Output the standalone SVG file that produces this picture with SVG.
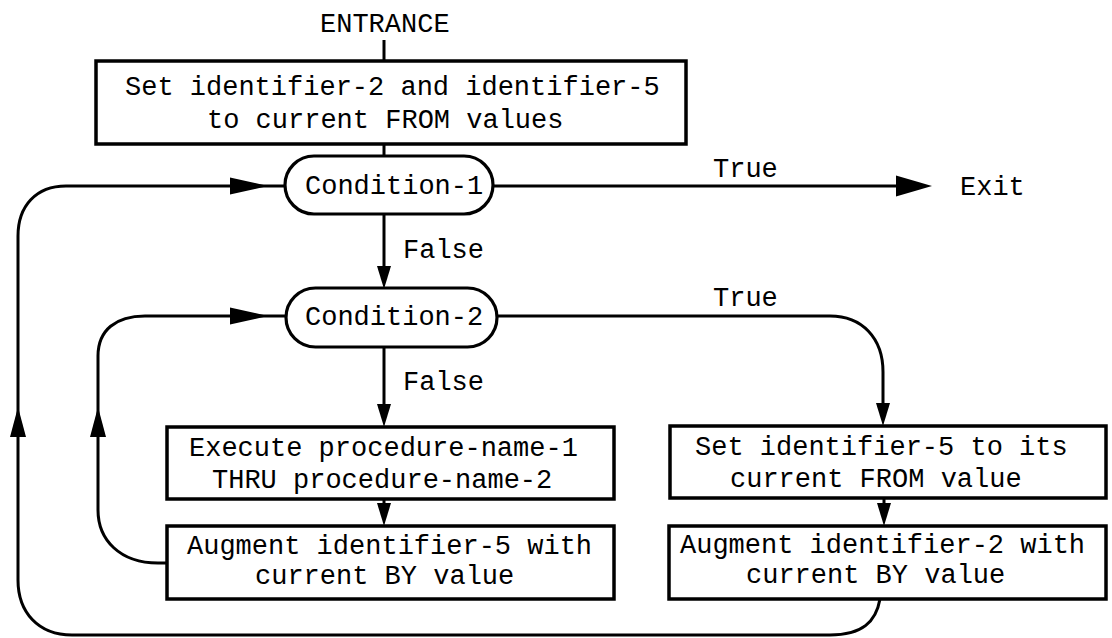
<svg xmlns="http://www.w3.org/2000/svg" xmlns:xlink="http://www.w3.org/1999/xlink" width="1112" height="638" viewBox="0 0 1112 638">
  <style>
    .box { fill: #ffffff; stroke: #000000; stroke-width: 3.5; }
    .pill { fill: #ffffff; stroke: #000000; stroke-width: 3.2; }
    .line { fill: none; stroke: #000000; stroke-width: 3; stroke-linecap: butt; stroke-linejoin: round; }
    .head { fill: #000000; stroke: none; }
    text { font-family: "Liberation Mono", "DejaVu Sans Mono", monospace; font-size: 27px; fill: #000000; }
  </style>
  <defs>
    <!-- arrowheads drawn pointing along +x, tip at the origin -->
    <path id="head-long" d="M0,0 L-38,-8.5 L-38,8.5 Z"/>
    <path id="head-exit" d="M0,0 L-36,-10.5 L-36,10.5 Z"/>
    <path id="head-short" d="M0,0 L-23,-7 L-23,7 Z"/>
    <path id="head-loop" d="M0,0 L-30,-8 L-30,8 Z"/>
  </defs>
  <rect width="1112" height="638" fill="#ffffff"/>

  <g id="connectors">
    <!-- entrance tick -->
    <path class="line" d="M384,40 L384,61"/>
    <!-- top box to Condition-1 -->
    <path class="line" d="M384,144 L384,156"/>
    <!-- Condition-1 true to Exit -->
    <path class="line" d="M493,186 L900,186"/>
    <use class="head" href="#head-exit" transform="translate(932,186)"/>
    <!-- Condition-1 false to Condition-2 -->
    <path class="line" d="M384,214 L384,268"/>
    <use class="head" href="#head-short" transform="translate(384,289) rotate(90)"/>
    <!-- Condition-2 true to Set identifier-5 -->
    <path class="line" d="M497,316 L830,316 C862,316 883,338 883,372 L883,405"/>
    <use class="head" href="#head-short" transform="translate(883,426) rotate(90)"/>
    <!-- Condition-2 false to Execute -->
    <path class="line" d="M384,347 L384,406"/>
    <use class="head" href="#head-short" transform="translate(384,427) rotate(90)"/>
    <!-- Execute to Augment identifier-5 -->
    <path class="line" d="M384,499 L384,505"/>
    <use class="head" href="#head-short" transform="translate(384,526) rotate(90)"/>
    <!-- Set identifier-5 to Augment identifier-2 -->
    <path class="line" d="M884,498 L884,505"/>
    <use class="head" href="#head-short" transform="translate(884,526) rotate(90)"/>
    <!-- inner loop: Augment identifier-5 back to Condition-2 -->
    <path class="line" d="M167,563 L158,563 C120,563 98,540 98,510 L98,356 C98,330 116,316 145,316 L287,316"/>
    <use class="head" href="#head-loop" transform="translate(98,407) rotate(-90)"/>
    <use class="head" href="#head-long" transform="translate(268,316)"/>
    <!-- outer loop: Augment identifier-2 back to Condition-1 -->
    <path class="line" d="M880,599 C876,622 862,635 830,635 L72,635 C38,635 18,612 18,580 L18,236 C18,206 36,186 66,186 L286,186"/>
    <use class="head" href="#head-loop" transform="translate(18,407) rotate(-90)"/>
    <use class="head" href="#head-long" transform="translate(268,186)"/>
  </g>

  <g id="entrance">
    <text x="320" y="32">ENTRANCE</text>
  </g>

  <g id="set-from-values">
    <rect class="box" x="96" y="61" width="590" height="83"/>
    <text x="125" y="95">Set identifier-2 and identifier-5</text>
    <text x="207" y="128">to current FROM values</text>
  </g>

  <g id="condition-1">
    <rect class="pill" x="285" y="156" width="208" height="58" rx="29" ry="29"/>
    <text x="305" y="194">Condition-1</text>
  </g>

  <g id="condition-2">
    <rect class="pill" x="286" y="288" width="211" height="59" rx="29.5" ry="29.5"/>
    <text x="305" y="325">Condition-2</text>
  </g>

  <g id="exit">
    <text x="960" y="195">Exit</text>
  </g>

  <g id="labels">
    <text x="713" y="177">True</text>
    <text x="403" y="258">False</text>
    <text x="713" y="306">True</text>
    <text x="403" y="390">False</text>
  </g>

  <g id="execute-procedures">
    <rect class="box" x="167" y="427" width="447" height="72"/>
    <text x="189" y="456">Execute procedure-name-1</text>
    <text x="212" y="488">THRU procedure-name-2</text>
  </g>

  <g id="augment-identifier-5">
    <rect class="box" x="167" y="526" width="447" height="73"/>
    <text x="187" y="554">Augment identifier-5 with</text>
    <text x="255" y="584">current BY value</text>
  </g>

  <g id="set-identifier-5">
    <rect class="box" x="670" y="426" width="436" height="72"/>
    <text x="695" y="455">Set identifier-5 to its</text>
    <text x="730" y="487">current FROM value</text>
  </g>

  <g id="augment-identifier-2">
    <rect class="box" x="669" y="526" width="437" height="73"/>
    <text x="680" y="553">Augment identifier-2 with</text>
    <text x="746" y="583">current BY value</text>
  </g>
</svg>
